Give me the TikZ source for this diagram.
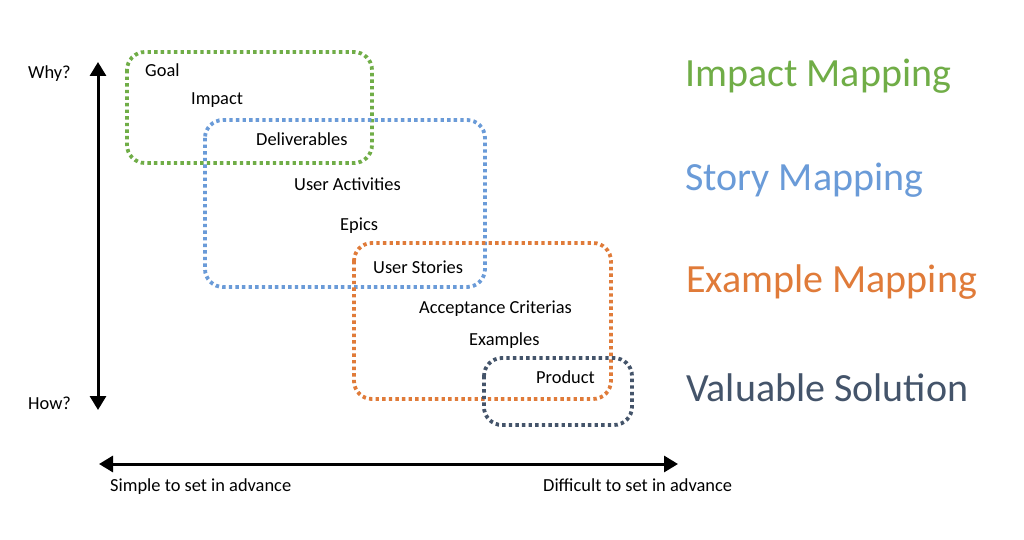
\documentclass[tikz,border=0pt]{standalone}
\usepackage{fontspec}
\setmainfont{Carlito}
\usetikzlibrary{arrows.meta}
\definecolor{cgreen}{HTML}{70AD47}
\definecolor{cblue}{HTML}{6A9BD8}
\definecolor{corange}{HTML}{E07B39}
\definecolor{cnavy}{HTML}{44546A}
\tikzset{
  grp/.style={line width=3.8pt, dash pattern=on 3.4pt off 3.2pt, rounded corners=18pt},
  lbl/.style={anchor=base west, inner sep=0pt, font=\fontsize{18.4}{22}\selectfont},
  big/.style={anchor=base west, inner sep=0pt, font=\fontsize{40}{48}\selectfont},
  axis/.style={line width=3pt, {Triangle[length=14pt,width=16pt]}-{Triangle[length=14pt,width=16pt]}}
}
\begin{document}
\begin{tikzpicture}[x=1pt,y=-1pt]
\useasboundingbox (0,0) rectangle (1024,540);
\fill[white] (0,0) rectangle (1024,540);
% group boxes
\draw[grp, cgreen] (127,52) rectangle (372,163);
\draw[grp, cblue] (205,120) rectangle (485,287);
\draw[grp, corange] (354,243) rectangle (611,399);
\draw[grp, cnavy] (484,358) rectangle (632,425);
% axes
\coordinate (vtop) at (98,62);
\coordinate (vbot) at (98,410);
\coordinate (hl) at (99,464);
\coordinate (hr) at (678,464);
\draw[axis] (vtop) -- (vbot);
\draw[axis] (hl) -- (hr);
% axis labels
\node[lbl] (why) at (28,79) {Why?};
\node[lbl] (how) at (28,409) {How?};
\node[lbl] (simple) at (110,491) {Simple to set in advance};
\node[lbl] (difficult) at (543,491) {Difficult to set in advance};
% items
\node[lbl] (goal) at (145,77) {Goal};
\node[lbl] (impact) at (191,105) {Impact};
\node[lbl] (deliv) at (256,146) {Deliverables};
\node[lbl] (useract) at (294,190) {User Activities};
\node[lbl] (epics) at (340,230) {Epics};
\node[lbl] (stories) at (373,273) {User Stories};
\node[lbl] (accept) at (419,313) {Acceptance Criterias};
\node[lbl] (examples) at (469,345) {Examples};
\node[lbl] (product) at (536,383) {Product};
% legend
\node[big, text=cgreen] (im) at (685,87) {Impact Mapping};
\node[big, text=cblue] (sm) at (685,190) {Story Mapping};
\node[big, text=corange] (em) at (686,292) {Example Mapping};
\node[big, text=cnavy] (vs) at (686,401) {Valuable Solution};
\end{tikzpicture}
\end{document}
